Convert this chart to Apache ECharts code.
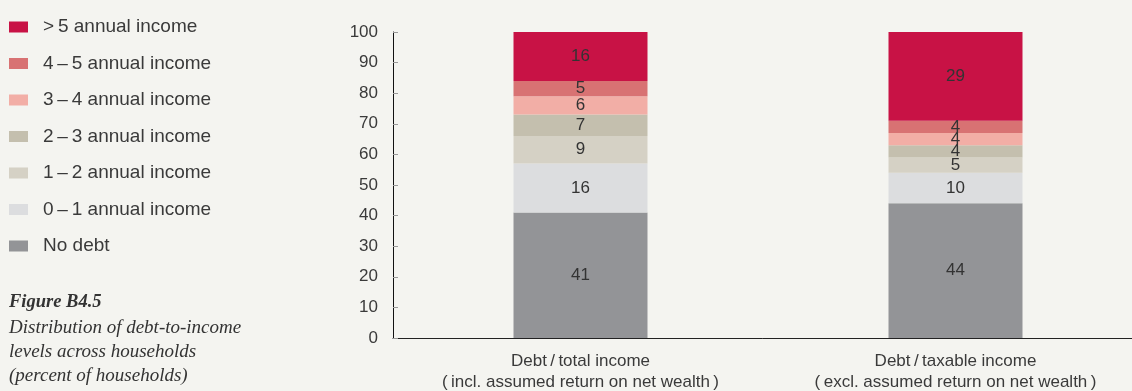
<!DOCTYPE html>
<html>
<head>
<meta charset="utf-8">
<script src="https://cdn.jsdelivr.net/npm/echarts@6/dist/echarts.min.js"></script>
<style>
  html, body { margin: 0; padding: 0; background: #f4f4f0; }
  #chart { width: 1132px; height: 391px; }
</style>
</head>
<body>
<div id="chart"></div>
<script>
// Household debt-to-income distribution, percent of households
const categories = [
  'Debt\u2009/\u2009total income\n(\u2009incl. assumed return on net wealth\u2009)',
  'Debt\u2009/\u2009taxable income\n(\u2009excl. assumed return on net wealth\u2009)'
];
const noDebt     = [41, 44];
const zeroToOne  = [16, 10];
const oneToTwo   = [9, 5];
const twoToThree = [7, 4];
const threeToFour = [6, 4];
const fourToFive = [5, 4];
const overFive   = [16, 29];
const yTicks = [0, 10, 20, 30, 40, 50, 60, 70, 80, 90, 100];

const seriesDefs = [
  { name: 'No debt',                               data: noDebt,      color: '#939497' },
  { name: '0\u2009\u2013\u20091 annual income',    data: zeroToOne,   color: '#dcdddf' },
  { name: '1\u2009\u2013\u20092 annual income',    data: oneToTwo,    color: '#d5d1c5' },
  { name: '2\u2009\u2013\u20093 annual income',    data: twoToThree,  color: '#c4bfae' },
  { name: '3\u2009\u2013\u20094 annual income',    data: threeToFour, color: '#f2aea6' },
  { name: '4\u2009\u2013\u20095 annual income',    data: fourToFive,  color: '#d87273' },
  { name: '>\u20095 annual income',                data: overFive,    color: '#c81245' }
];

const sans = 'Liberation Sans, Arial, sans-serif';
const serif = 'Liberation Serif, DejaVu Serif, serif';

const chart = echarts.init(document.getElementById('chart'), null, { renderer: 'canvas' });

chart.setOption({
  backgroundColor: '#f4f4f0',
  animation: false,
  title: [
    {
      text: 'Figure B4.5',
      left: 9, top: 293,
      textStyle: { fontFamily: serif, fontStyle: 'italic', fontWeight: 'bold', fontSize: 18.5, lineHeight: 18, color: '#333' },
      padding: 0
    },
    {
      text: 'Distribution of debt-to-income\nlevels across households\n(percent of households)',
      left: 9, top: 316,
      textStyle: { fontFamily: serif, fontStyle: 'italic', fontWeight: 'normal', fontSize: 19, lineHeight: 24, color: '#333' },
      padding: 0
    }
  ],
  legend: {
    orient: 'vertical',
    left: 9, top: 17.5,
    padding: 0,
    itemWidth: 19, itemHeight: 11,
    itemGap: 17.5,
    icon: 'rect',
    data: seriesDefs.map(s => s.name).reverse(),
    textStyle: { fontFamily: sans, fontSize: 19, lineHeight: 19, color: '#3a3a3a', padding: [0, 0, 0, 10] }
  },
  grid: { left: 393, width: 750, top: 32, bottom: 53, containLabel: false, outerBoundsMode: 'none' },
  xAxis: {
    type: 'category',
    data: categories,
    axisLine: { lineStyle: { color: '#222', width: 1 } },
    axisTick: { inside: true, length: 6, lineStyle: { color: '#555' } },
    axisLabel: { fontFamily: sans, fontSize: 17, lineHeight: 21, color: '#3a3a3a', margin: 13 }
  },
  yAxis: {
    type: 'value',
    min: 0, max: 100, interval: 10,
    splitLine: { show: false },
    axisLine: { show: true, lineStyle: { color: '#111', width: 1 } },
    axisTick: { show: true, inside: true, length: 5, lineStyle: { color: '#999' } },
    axisLabel: {
      fontFamily: sans, fontSize: 17, color: '#3a3a3a', margin: 15,
      formatter: v => (yTicks.includes(v) ? String(v) : '')
    }
  },
  series: seriesDefs.map(s => ({
    name: s.name,
    type: 'bar',
    stack: 'total',
    barWidth: 134,
    data: s.data,
    itemStyle: { color: s.color },
    label: {
      show: true, position: 'inside',
      fontFamily: sans, fontSize: 17, color: '#333'
    }
  }))
});
</script>
</body>
</html>
